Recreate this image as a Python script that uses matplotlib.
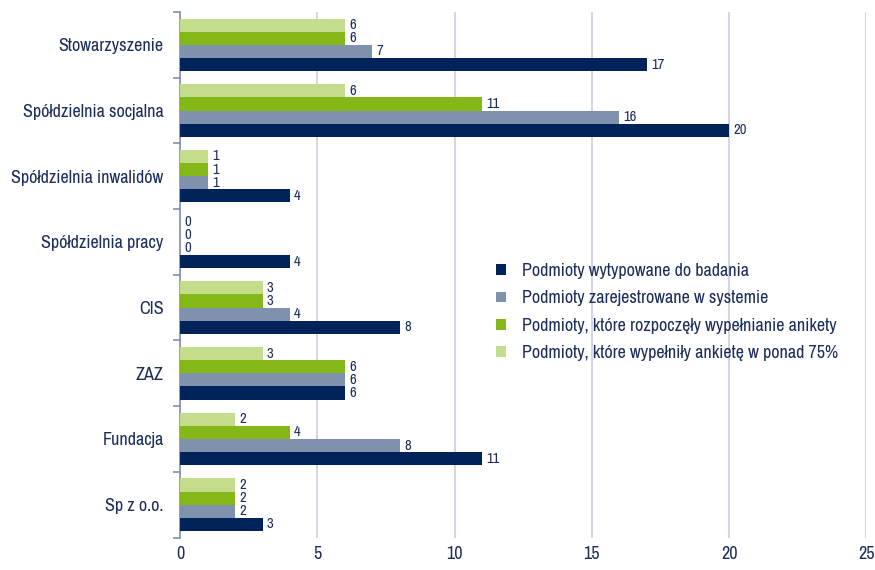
import numpy as np
import matplotlib.pyplot as plt
from matplotlib.ticker import FixedLocator
from matplotlib import font_manager

names = sorted({f.name for f in font_manager.fontManager.ttflist})
cond = [n for n in names if 'Narrow' in n or 'Condensed' in n]

plt.rcParams['font.family'] = cond[:1] + ['Liberation Sans', 'DejaVu Sans']

categories = ['Stowarzyszenie', 'Spółdzielnia socjalna', 'Spółdzielnia inwalidów',
              'Spółdzielnia pracy', 'CIS', 'ZAZ', 'Fundacja', 'Sp z o.o.']
typed = [17, 20, 4, 4, 8, 6, 11, 3]
registered = [7, 16, 1, 0, 4, 6, 8, 2]
started = [6, 11, 1, 0, 3, 6, 4, 2]
completed = [6, 6, 1, 0, 3, 3, 2, 2]

series_names = ['Podmioty wytypowane do badania',
                'Podmioty zarejestrowane w systemie',
                'Podmioty, które rozpoczęły wypełnianie anikety',
                'Podmioty, które wypełniły ankietę w ponad 75%']
colors = ['#002459', '#8091ae', '#84b819', '#c4dd8d']
text_col = '#1c2d5c'

fig, ax = plt.subplots(figsize=(8.75, 5.7), dpi=100)
fig.subplots_adjust(left=0.206, right=0.99, top=0.979, bottom=0.057)

n = len(categories)
y = np.arange(n)[::-1]
h = 0.2
offsets = [-1.5 * h, -0.5 * h, 0.5 * h, 1.5 * h]
handles = []
for vals, off, col, name in zip([typed, registered, started, completed],
                                offsets, colors, series_names):
    bars = ax.barh(y + off, vals, height=h, color=col, label=name, zorder=3)
    handles.append(bars)
    for yy, v in zip(y + off, vals):
        ax.text(v + 0.15, yy, str(v), va='center', ha='left',
                fontsize=10.5, color=text_col, zorder=4)

ax.set_xlim(0, 25)
ax.set_ylim(-0.5, n - 0.5)
ax.set_xticks([0, 5, 10, 15, 20, 25])
ax.tick_params(axis='x', length=0, labelsize=13, labelcolor=text_col, pad=6)
ax.set_yticks(y)
ax.set_yticklabels(categories)
ax.tick_params(axis='y', which='major', length=0, labelsize=13,
               labelcolor=text_col, pad=12)
ax.yaxis.set_minor_locator(FixedLocator(np.arange(-0.5, n, 1)))
ax.tick_params(axis='y', which='minor', length=5, color='#8091ae', width=1.2)
ax.grid(axis='x', color='#c9d0dc', linewidth=1.2, zorder=0)
for s in ['top', 'right', 'bottom']:
    ax.spines[s].set_visible(False)
ax.spines['left'].set_color('#8091ae')
ax.spines['left'].set_linewidth(1.2)

leg = ax.legend(handles=handles, loc='upper left', bbox_to_anchor=(0.437, 0.553),
                frameon=False, fontsize=13, handlelength=0.55, handleheight=0.55,
                handletextpad=0.85, labelspacing=0.62, labelcolor=text_col)

fig.savefig('out.png')
